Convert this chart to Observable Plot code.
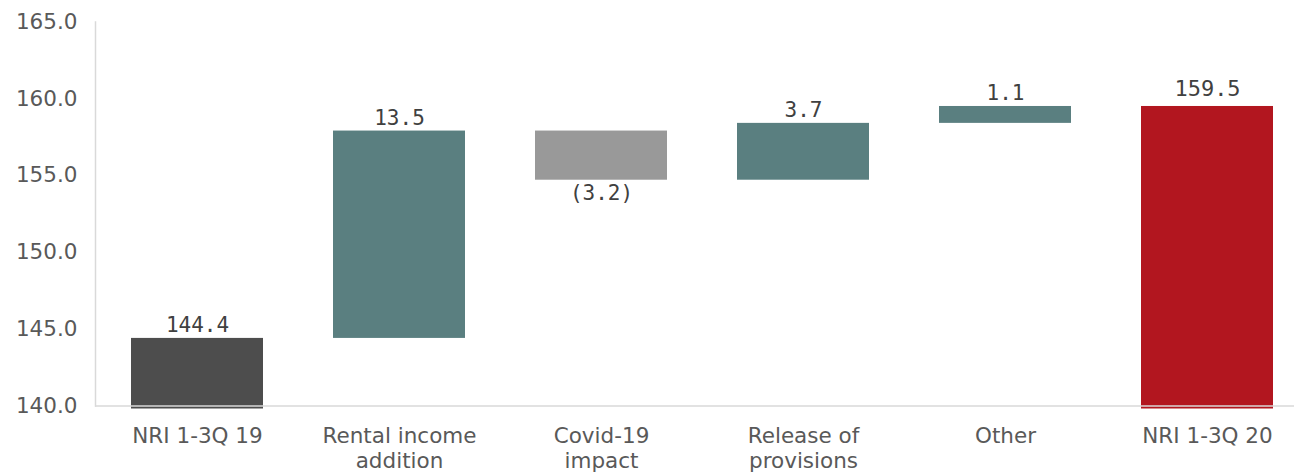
<!DOCTYPE html>
<html>
<head>
<meta charset="utf-8">
<script src="https://cdn.jsdelivr.net/npm/d3@7"></script>
<script src="https://cdn.jsdelivr.net/npm/@observablehq/plot@0.6"></script>
<style>
  html, body { margin: 0; padding: 0; background: #fff; }
  #chart { width: 1294px; height: 473px; overflow: hidden; }
</style>
</head>
<body>
<div id="chart"></div>
<script>
// ---- data ----
const categories = ["NRI 1-3Q 19", "Rental income addition", "Covid-19 impact", "Release of provisions", "Other", "NRI 1-3Q 20"];
const tickLabels = ["NRI 1-3Q 19", "Rental income\naddition", "Covid-19\nimpact", "Release of\nprovisions", "Other", "NRI 1-3Q 20"];
const values = [144.4, 13.5, -3.2, 3.7, 1.1, 159.5];
const kinds = ["start", "delta", "delta", "delta", "delta", "total"];
const yTicks = [140, 145, 150, 155, 160, 165];
const colors = { start: "#4d4d4d", up: "#5a7f80", down: "#999999", total: "#b2161f" };

// ---- build table ----
const base = 140;
let running = 0;
const rows = categories.map((c, i) => {
  const v = values[i], k = kinds[i];
  let y1, y2, type;
  if (k === "start") { y1 = base; y2 = v; running = v; type = "start"; }
  else if (k === "total") { y1 = base; y2 = v; running = v; type = "total"; }
  else { y1 = running; y2 = running + v; running = y2; type = v >= 0 ? "up" : "down"; }
  const label = v < 0 ? `(${Math.abs(v).toFixed(1)})` : v.toFixed(1);
  return { cat: c, tick: tickLabels[i], y1, y2, top: Math.max(y1, y2), bottom: Math.min(y1, y2), type, label, neg: v < 0, isTotal: k !== "delta" };
});
const tickMap = new Map(rows.map(r => [r.cat, r.tick]));

const mono = "'DejaVu Sans Mono', monospace";
const plot = Plot.plot({
  width: 1294,
  height: 473,
  marginLeft: 95,
  marginRight: 0,
  marginTop: 21.5,
  marginBottom: 67.5,
  style: { fontFamily: "'DejaVu Sans', Verdana, sans-serif", background: "#fff" },
  x: { domain: categories, range: [95, 1309], paddingInner: 0.348, paddingOuter: 0.173, axis: null },
  y: { domain: [140, 165], axis: null },
  marks: [
    Plot.frame({ anchor: "left", stroke: "#d9d9d9", strokeWidth: 1.5 }),
    Plot.barY(rows.filter(d => d.isTotal), { x: "cat", y1: "y1", y2: "y2", fill: d => colors[d.type], insetBottom: -3 }),
    Plot.barY(rows.filter(d => !d.isTotal), { x: "cat", y1: "y1", y2: "y2", fill: d => colors[d.type] }),
    Plot.ruleY([base], { stroke: "#d9d9d9", strokeWidth: 1.5 }),
    Plot.text(rows.filter(d => !d.neg && d.type !== "total"), { x: "cat", y: "top", text: "label", dy: -13, fontSize: 21, fill: "#404040", fontFamily: mono }),
    Plot.text(rows.filter(d => d.type === "total"), { x: "cat", y: "top", text: "label", dy: -18, fontSize: 22, fill: "#404040", fontFamily: mono }),
    Plot.text(rows.filter(d => d.neg), { x: "cat", y: "bottom", text: "label", dy: 13, fontSize: 21, fill: "#404040", fontFamily: mono }),
    Plot.axisY({ ticks: yTicks, tickFormat: d => d.toFixed(1), tickSize: 0, tickPadding: 18, fontSize: 21.5, color: "#595959", label: null }),
    Plot.axisX({ tickSize: 0, tickPadding: 19, fontSize: 21.5, color: "#595959", tickFormat: d => tickMap.get(d), lineHeight: 1.17, label: null })
  ]
});
document.getElementById("chart").appendChild(plot);
</script>
</body>
</html>
